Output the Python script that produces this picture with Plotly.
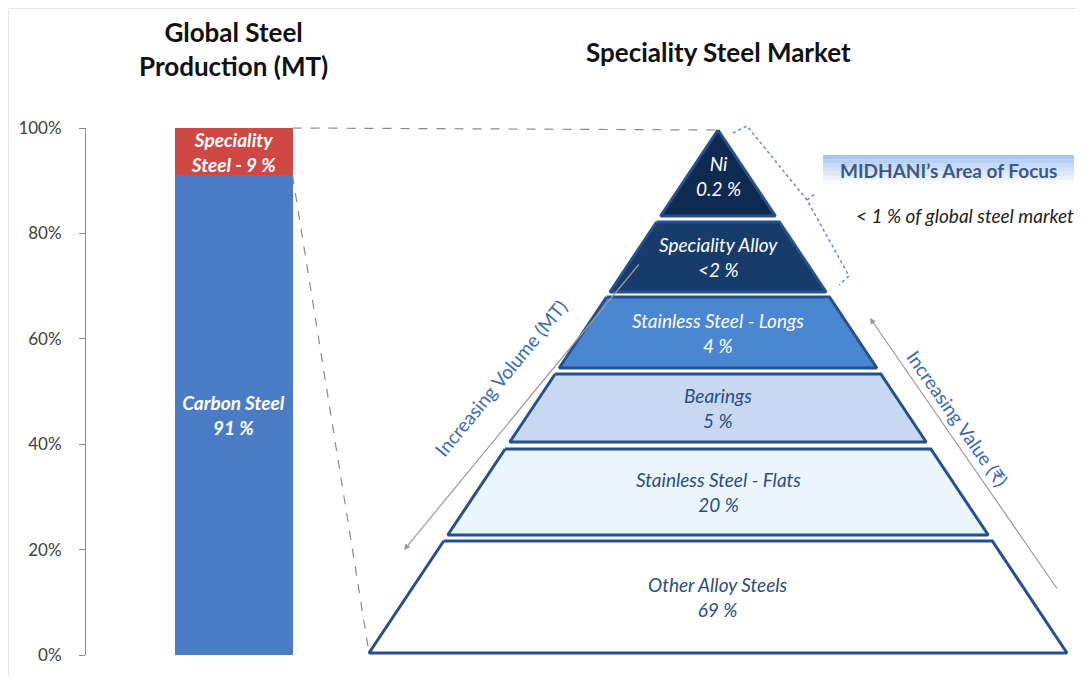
import plotly.graph_objects as go

W, H = 1084, 676
OFFSET = 8  # page body margin: figure pixel (0, 0) lands at screen (8, 8)
FONT = "Lato, 'Open Sans', sans-serif"

# --- data ---
segments = ["Carbon Steel", "Speciality Steel"]
shares = [91, 9]
segment_labels = ["Carbon Steel<br>91 %", "Speciality<br>Steel - 9 %"]
segment_colors = ["#4a7cc5", "#cf4843"]

y_ticks = [0, 20, 40, 60, 80, 100]

layers = ["Ni", "Speciality Alloy", "Stainless Steel - Longs", "Bearings",
          "Stainless Steel - Flats", "Other Alloy Steels"]
layer_shares = ["0.2 %", "<2 %", "4 %", "5 %", "20 %", "69 %"]

# --- layout geometry (screen pixels) ---
BAR_X0, BAR_X1 = 86, 381
PLOT_TOP, PLOT_BOTTOM = 128, 655
BAR_CENTER, BAR_WIDTH = 0.5, 0.4

APEX_X, APEX_Y = 718, 130
BASE_Y, BASE_HALF = 653, 349
layer_bounds = [(130, 216), (222, 292), (297, 368), (374, 442), (449, 535), (541, 653)]
layer_fills = ["#0e2a50", "#183c69", "#4b86d1", "#c6d9f1", "#eaf5fd", "#ffffff"]
layer_text_colors = ["white", "white", "white", "#2c4d7f", "#2c4d7f", "#2c4d7f"]
OUTLINE = "#25508d"


def half_width(y):
    return BASE_HALF * (y - APEX_Y) / (BASE_Y - APEX_Y)


def bar_px_x(v):
    return BAR_X0 + v * (BAR_X1 - BAR_X0)


def bar_px_y(v):
    return PLOT_BOTTOM - v / 100 * (PLOT_BOTTOM - PLOT_TOP)


fig = go.Figure()

# stacked bar
for name, share, lab, col in zip(segments, shares, segment_labels, segment_colors):
    fig.add_trace(go.Bar(
        x=[BAR_CENTER], y=[share], width=BAR_WIDTH, name=name,
        marker=dict(color=col, line_width=0),
        text=[f"<i><b>{lab}</b></i>"], textposition="inside",
        insidetextanchor="middle", constraintext="none",
        textfont=dict(color="white", size=19, family=FONT),
        hoverinfo="skip", showlegend=False,
    ))

# pyramid layers
annotations = []
for i, (top, bot) in enumerate(layer_bounds):
    ht, hb = half_width(top), half_width(bot)
    fig.add_trace(go.Scatter(
        x=[APEX_X - ht, APEX_X + ht, APEX_X + hb, APEX_X - hb, APEX_X - ht],
        y=[top, top, bot, bot, top],
        xaxis="x2", yaxis="y2", mode="lines", fill="toself",
        fillcolor=layer_fills[i], line=dict(color=OUTLINE, width=3),
        hoverinfo="skip", showlegend=False,
    ))
    annotations.append(dict(
        x=APEX_X, y=(top + bot) / 2 + (3 if i == 0 else 0), xref="x2", yref="y2",
        text=f"<i>{layers[i]}<br>{layer_shares[i]}</i>", showarrow=False,
        font=dict(color=layer_text_colors[i], size=19, family=FONT),
    ))

bar_right = bar_px_x(BAR_CENTER + BAR_WIDTH / 2)
shapes = [
    # frame
    dict(type="rect", xref="x2", yref="y2", x0=8.5, y0=8.5, x1=1090, y1=690,
         line=dict(color="#e6e6e6", width=1)),
    # connectors from bar to pyramid
    dict(type="line", xref="x2", yref="y2", x0=bar_right, y0=bar_px_y(100),
         x1=APEX_X, y1=APEX_Y, line=dict(color="#8a8a8a", width=1.2, dash="dash")),
    dict(type="line", xref="x2", yref="y2", x0=bar_right, y0=bar_px_y(shares[0]),
         x1=APEX_X - BASE_HALF, y1=BASE_Y, line=dict(color="#8a8a8a", width=1.2, dash="dash")),
    # bracket around the top two layers
    dict(type="path", xref="x2", yref="y2",
         path="M733,133 L747,126 L807,200 L849,276 L839,285 M807,200 L816,193",
         line=dict(color="#5b8fd6", width=1.5, dash="dot")),
]

# gradient label box
box_colors = ["#a9c6ef", "#b6cff2", "#c4d8f4", "#d2e1f7", "#dfe9f9", "#ebf2fb", "#f6f9fd"]
bx0, bx1, by0, by1 = 823, 1074, 155, 184
step = (by1 - by0) / len(box_colors)
for k, c in enumerate(box_colors):
    shapes.append(dict(type="rect", xref="x2", yref="y2", x0=bx0, x1=bx1,
                       y0=by0 + k * step, y1=by0 + (k + 1) * step + 0.5,
                       fillcolor=c, line_width=0, layer="below"))

annotations += [
    dict(x=233, y=49, xref="x2", yref="y2", showarrow=False,
         text="<b>Global Steel<br>Production (MT)</b>",
         font=dict(size=26, color="#111111", family=FONT)),
    dict(x=718, y=52, xref="x2", yref="y2", showarrow=False,
         text="<b>Speciality Steel Market</b>",
         font=dict(size=26, color="#111111", family=FONT)),
    dict(x=(bx0 + bx1) / 2, y=(by0 + by1) / 2 + 1, xref="x2", yref="y2", showarrow=False,
         text="<b>MIDHANI\u2019s Area of Focus</b>",
         font=dict(size=19, color="#3b5a88", family=FONT)),
    dict(x=965, y=215, xref="x2", yref="y2", showarrow=False,
         text="<i>< 1 % of global steel market</i>",
         font=dict(size=19, color="#222222", family=FONT)),
    # arrows
    dict(x=404, y=550, ax=640, ay=263, xref="x2", yref="y2", axref="x2", ayref="y2",
         showarrow=True, arrowhead=2, arrowsize=1, arrowwidth=1.2, arrowcolor="#9a9a9a", text=""),
    dict(x=870, y=318, ax=1058, ay=590, xref="x2", yref="y2", axref="x2", ayref="y2",
         showarrow=True, arrowhead=2, arrowsize=1, arrowwidth=1.2, arrowcolor="#9a9a9a", text=""),
    dict(x=500, y=378, xref="x2", yref="y2", showarrow=False, textangle=-50.6,
         text="Increasing Volume (MT)", font=dict(size=19, color="#3a6bb0", family=FONT)),
    dict(x=958, y=418, xref="x2", yref="y2", showarrow=False, textangle=55,
         text="Increasing Value (\u20b9)", font=dict(size=19, color="#3a6bb0", family=FONT)),
]

fig.update_layout(
    width=W, height=H, autosize=False, barmode="stack",
    margin=dict(l=0, r=0, t=0, b=0, pad=0, autoexpand=False),
    paper_bgcolor="white", plot_bgcolor="rgba(0,0,0,0)",
    xaxis=dict(domain=[(BAR_X0 - OFFSET) / W, (BAR_X1 - OFFSET) / W], range=[0, 1],
               visible=False, automargin=False),
    yaxis=dict(domain=[(H - PLOT_BOTTOM + OFFSET) / H, (H - PLOT_TOP + OFFSET) / H], range=[0, 100],
               tickvals=y_ticks, ticktext=[f"{v}%" for v in y_ticks],
               showline=True, linecolor="#8c8c8c", linewidth=1,
               ticks="outside", ticklen=6, tickcolor="#8c8c8c",
               ticklabelstandoff=14, showgrid=False, zeroline=False, automargin=False,
               tickfont=dict(size=17, color="#404040", family=FONT)),
    xaxis2=dict(domain=[0, 1], range=[OFFSET, W + OFFSET], visible=False, anchor="y2", automargin=False),
    yaxis2=dict(domain=[0, 1], range=[H + OFFSET, OFFSET], visible=False, anchor="x2", automargin=False),
    shapes=shapes, annotations=annotations,
)

fig.write_html("out.html", config={"responsive": False})
